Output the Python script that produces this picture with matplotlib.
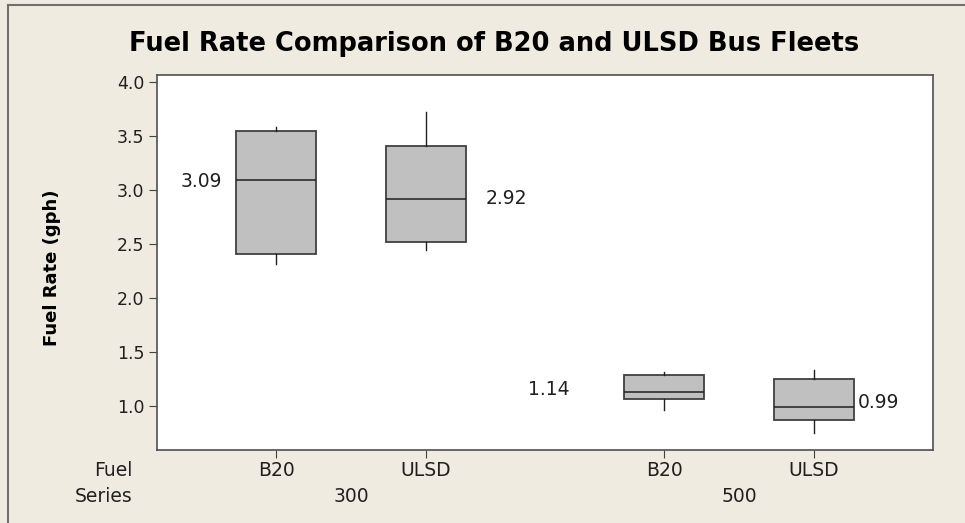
"""Fuel rate comparison boxplot of B20 and ULSD bus fleets."""

import matplotlib
matplotlib.use("Agg")
import matplotlib.pyplot as plt
from matplotlib.lines import Line2D

# data
fuels = ["B20", "ULSD", "B20", "ULSD"]
series = ["300", "500"]
whisker_low = [2.31, 2.44, 0.96, 0.75]
q1 = [2.41, 2.52, 1.06, 0.87]
medians = [3.09, 2.92, 1.13, 0.99]
q3 = [3.55, 3.41, 1.28, 1.25]
whisker_high = [3.58, 3.72, 1.31, 1.33]
median_labels = ["3.09", "2.92", "1.14", "0.99"]
y_ticks = [1.0, 1.5, 2.0, 2.5, 3.0, 3.5, 4.0]

BG = "#efebe1"
BOX = "#c0c0c0"
EDGE = "#404040"

positions = [1.0, 2.0, 3.59, 4.59]
group_centers = [1.5, 4.09]

fig = plt.figure(figsize=(9.65, 5.23), dpi=100, facecolor=BG)
ax = fig.add_axes([157 / 965, 1 - 450 / 523, 776 / 965, 375 / 523])
ax.set_facecolor("white")

stats = []
for i in range(len(fuels)):
    stats.append({
        "whislo": whisker_low[i], "q1": q1[i], "med": medians[i],
        "q3": q3[i], "whishi": whisker_high[i], "fliers": [],
    })
ax.bxp(
    stats, positions=positions, widths=0.53, showcaps=False, patch_artist=True,
    boxprops=dict(facecolor=BOX, edgecolor=EDGE, linewidth=1.3),
    medianprops=dict(color="#202020", linewidth=1.1),
    whiskerprops=dict(color="#202020", linewidth=1.0),
)

ax.set_xlim(0.205, 5.385)
ax.set_ylim(0.588, 4.067)
ax.set_yticks(y_ticks)
ax.set_yticklabels([f"{t:.1f}" for t in y_ticks], fontsize=12.5, color="#202020")
ax.set_xticks(positions)
ax.set_xticklabels([])
ax.tick_params(axis="both", length=6, width=0.8, color="#404040", pad=3)
for sp in ax.spines.values():
    sp.set_color("#505050")
    sp.set_linewidth(1.2)

# median labels, placed as in the reference
label_spots = [(0.64, 3.075, "right"), (2.40, 2.92, "left"),
               (2.96, 1.15, "right"), (4.88, 1.03, "left")]
for (lx, ly, ha), txt in zip(label_spots, median_labels):
    ax.text(lx, ly, txt, ha=ha, va="center", fontsize=13.5, color="#202020")

# category rows below the axis
trans = ax.get_xaxis_transform()
for x, f in zip(positions, fuels):
    ax.text(x, 1 - (470 - 75) / 375, f, transform=trans, ha="center",
            va="center", fontsize=13.5, color="#202020", clip_on=False)
for x, s in zip(group_centers, series):
    ax.text(x, 1 - (497 - 75) / 375, s, transform=trans, ha="center",
            va="center", fontsize=13.5, color="#202020", clip_on=False)
fig.text(133 / 965, 1 - 470 / 523, "Fuel", ha="right", va="center",
         fontsize=13.5, color="#202020")
fig.text(133 / 965, 1 - 497 / 523, "Series", ha="right", va="center",
         fontsize=13.5, color="#202020")

fig.text(494 / 965, 1 - 44 / 523, "Fuel Rate Comparison of B20 and ULSD Bus Fleets",
         ha="center", va="center", fontsize=18.5, fontweight="bold", color="#000000")
fig.text(52 / 965, 1 - 268 / 523, "Fuel Rate (gph)", rotation=90, ha="center",
         va="center", fontsize=13, fontweight="bold", color="#000000")

# outer frame on left and top
fig.add_artist(Line2D([8 / 965, 8 / 965], [0, 1 - 4.5 / 523],
                      transform=fig.transFigure, color="#707070", lw=1.5))
fig.add_artist(Line2D([8 / 965, 1], [1 - 4.5 / 523, 1 - 4.5 / 523],
                      transform=fig.transFigure, color="#707070", lw=1.5))

fig.savefig("out.png", dpi=100, facecolor=BG)
